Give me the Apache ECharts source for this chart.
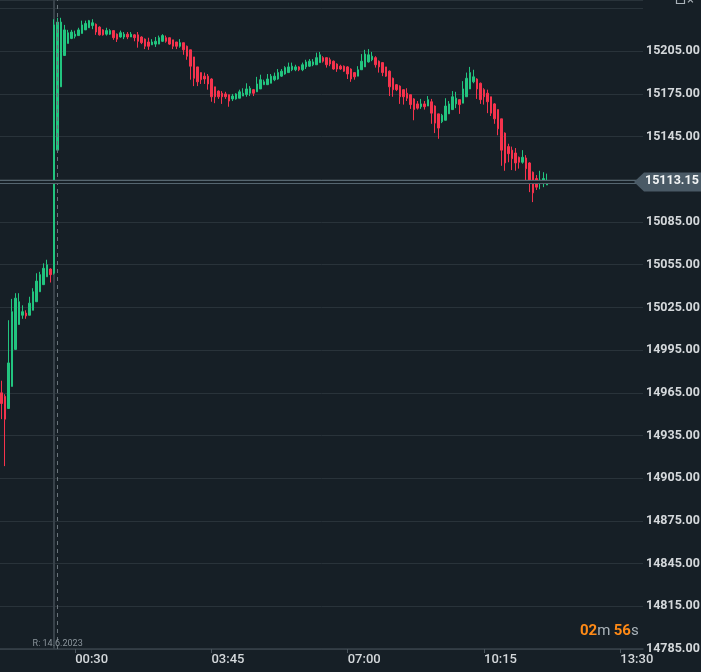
<!DOCTYPE html>
<html>
<head>
<meta charset="utf-8">
<script src="https://cdn.jsdelivr.net/npm/echarts@6/dist/echarts.min.js"></script>
<style>
html,body{margin:0;padding:0;background:#161f26;}
#chart{width:701px;height:672px;}
</style>
</head>
<body>
<div id="chart"></div>
<script>
// ---- data (5-minute candles, first candle at 22:45) ----
const firstSlot = '22:45';
const slotCount = 184;
const tickLabels = ['00:30', '03:45', '07:00', '10:15', '13:30'];
const sessionStart = '00:00';
const releaseSlot = '00:05';
const releaseText = 'R: 14.6.2023';
const countdownMin = '02';
const countdownSec = '56';

const opens = [
14965,14962.5,14954,14969.5,14995.5,15013,15019.5,15021,15019.5,15023,15029,15036,15041,15046.5,15052,
15049,15135.5,15180,15202,15210.5,15214,15215.5,15216,15217.5,15220,15221.5,15223,15224,15222,15220,
15217,15217,15219.5,15217,15215,15215,15217,15215,15216.5,15216.5,15215,15213.5,15211.5,15209.5,15210,
15210,15212,15214.5,15214.5,15213,15211.5,15208.5,15211,15208.5,15206,15201,15194,15190,15187.5,15187.5,
15185.5,15180,15177,15175.5,15175,15174.5,15171.5,15171.5,15172,15173.5,15174.5,15175.5,15178,15176.5,15178.5,
15181.5,15181.5,15182.5,15185,15185.5,15187.5,15189,15190,15192,15192,15194,15192,15194,15194.5,15195.5,
15195.5,15197,15200.5,15200.5,15199,15198,15196,15194.5,15194.5,15194,15192.5,15190,15187.5,15192,15194,
15197.5,15199,15200.5,15198,15197,15194,15191,15186,15181.5,15180.5,15178,15175.5,15174.5,15171.5,15168,
15166,15168,15166.5,15169.5,15166.5,15161,15155.5,15156.5,15161,15164,15168,15171,15168.5,15173,15178.5,
15183.5,15185.5,15182.5,15178,15175.5,15173,15168,15164,15157.5,15147.5,15138,15135.5,15133.5,15130.5,15127,
15130,15126.5,15120,15115.5,15112,15112,15111
];
const closes = [
14957.5,14946.5,14986,15022,15031.5,15029,15022,15019,15028,15036,15043.5,15048,15052.5,15055,15048,
15223.5,15225.5,15225.5,15220,15218,15218.5,15217,15220,15223.5,15224.5,15226.5,15225,15218.5,15216.5,15216.5,
15219.5,15219.5,15214.5,15213.5,15218,15217,15215,15217,15214.5,15212,15211,15208.5,15208.5,15211.5,15212,
15214.5,15216,15212,15210,15208.5,15208.5,15211,15206,15201.5,15194.5,15186,15183.5,15185,15185.5,15182,
15173,15173,15173,15173,15173,15170,15173.5,15175,15176.5,15175.5,15178.5,15179,15175.5,15182,15185,
15183.5,15185.5,15187.5,15187.5,15190,15191,15193.5,15194,15194.5,15194,15192,15195.5,15197.5,15198,15197.5,
15200.5,15202.5,15198,15195.5,15196,15192.5,15192.5,15192.5,15191,15189,15185.5,15187,15192,15198,15203,
15202.5,15201.5,15195.5,15194,15190,15187.5,15180,15178,15178,15173,15173,15172,15167.5,15164,15165,
15168,15166,15171,15161.5,15154.5,15151,15160,15166.5,15168,15173,15172,15167.5,15178.5,15186,15190,
15187,15178.5,15171,15173,15169.5,15161.5,15157.5,15150.5,15135.5,15126.5,15133,15129.5,15126.5,15127,15130.5,
15122.5,15114.5,15105.5,15109.5,15114.5,15115.5,15113.15
];
const lows = [
14946.5,14913.5,14954,14969.5,14995.5,15013,15017,15017,15019.5,15023,15029,15036,15041,15046.5,15042.5,
15048,15134,15180,15202,15210.5,15213.5,15214,15216,15217.5,15220,15221.5,15220.5,15216.5,15216,15216,
15216,15216.5,15213,15211.5,15214.5,15213.5,15213.5,15215,15212,15207.5,15210,15206.5,15206,15209.5,15208,
15210,15211.5,15211,15209.5,15206.5,15206.5,15207.5,15202.5,15199,15185,15180.5,15180.5,15182,15182,15178,
15169.5,15168.5,15171.5,15168,15171.5,15166,15170,15171,15172,15173.5,15173,15173.5,15173.5,15176.5,15178.5,
15181.5,15181.5,15182.5,15184,15185,15187,15188.5,15190,15191,15191,15191,15191,15192.5,15194,15194.5,
15195.5,15197,15197,15193.5,15194.5,15192,15190.5,15192,15190.5,15185.5,15183.5,15185,15187.5,15192,15194,
15197,15198,15193.5,15190,15187.5,15187,15173.5,15173,15177,15168,15167.5,15170,15164.5,15156.5,15164,
15164.5,15164,15166.5,15154,15147.5,15143.5,15154.5,15156.5,15161,15164,15165,15161,15168.5,15173,15178.5,
15182.5,15171.5,15168,15167.5,15161.5,15159.5,15154,15146,15124.5,15121,15127,15121.5,15121,15122.5,15126,
15114.5,15106,15099,15107.5,15108,15109.5,15111
];
const highs = [
14973.5,14964,15016,15031,15035,15035,15026.5,15023,15032.5,15038.5,15049,15050,15056,15058.5,15052.5,
15227.5,15228.5,15228.5,15223.5,15220,15220,15219.5,15221.5,15226.5,15226.5,15227,15227.5,15224.5,15222.5,15220.5,
15221.5,15220.5,15219.5,15217.5,15219.5,15218.5,15218.5,15218.5,15217,15218.5,15215.5,15214,15214.5,15213.5,15215,
15216,15217,15216,15214.5,15213,15211.5,15213.5,15211,15209,15206,15201,15194,15190,15190,15189,
15186,15180,15177.5,15177,15176.5,15174.5,15175,15175.5,15178,15179,15182.5,15180.5,15178.5,15187,15188.5,
15185,15189,15189,15190,15192.5,15192.5,15194.5,15197,15197,15195.5,15194.5,15197,15199,15199.5,15199.5,
15204,15204.5,15201.5,15200.5,15200.5,15198.5,15196.5,15195.5,15195,15194.5,15193,15190,15194.5,15203,15206,
15206.5,15204.5,15201.5,15198.5,15197,15194,15191.5,15186.5,15182,15181,15178,15179,15174.5,15172,15170,
15171.5,15170,15173.5,15171.5,15167,15161,15161,15172,15170,15177,15176.5,15171,15184,15190,15194,
15192,15186,15183,15179,15178,15173,15168.5,15164,15157.5,15148,15140,15138,15137,15131,15135.5,
15132,15127,15120.5,15118,15121,15120,15119
];

// ---- styles ----
const BG = '#161f26';
const UP = '#22c47f';
const DOWN = '#f5334d';
const GRID = '#29333a';
const TEXT = '#d4d8db';

function buildCategories(start, count) {
  const [h, m] = start.split(':').map(Number);
  const base = h * 60 + m;
  const out = [];
  for (let i = 0; i < count; i++) {
    const t = (base + i * 5) % 1440;
    out.push(String(Math.floor(t / 60)).padStart(2, '0') + ':' + String(t % 60).padStart(2, '0'));
  }
  return out;
}
const categories = buildCategories(firstSlot, slotCount);
const candleData = categories.map((c, i) =>
  i < opens.length ? [opens[i], closes[i], lows[i], highs[i]] : '-'
);
const lastPrice = closes[closes.length - 1];

const chart = echarts.init(document.getElementById('chart'), null, {renderer: 'canvas'});
const showTick = (idx, val) => tickLabels.indexOf(val) >= 0;

chart.setOption({
  animation: false,
  backgroundColor: BG,
  grid: {left: 0, right: 58, top: 0, bottom: 23, containLabel: false, outerBoundsMode: 'none'},
  xAxis: {
    type: 'category',
    data: categories,
    boundaryGap: true,
    axisLine: {show: true, lineStyle: {color: '#38434b', width: 1.5}},
    axisTick: {show: true, alignWithLabel: true, interval: showTick, length: 4, lineStyle: {color: '#4a555d'}},
    axisLabel: {
      interval: showTick, align: 'left', margin: 4,
      color: TEXT, fontSize: 13, fontFamily: 'Roboto', fontWeight: 500
    },
    splitLine: {show: false}
  },
  yAxis: {
    type: 'value',
    position: 'right',
    min: 14785, max: 15241, interval: 30,
    axisLine: {show: false},
    axisTick: {show: false},
    splitLine: {show: true, lineStyle: {color: GRID, width: 1}},
    axisLabel: {
      margin: 3, color: TEXT, fontSize: 12.5, fontFamily: 'Roboto', fontWeight: 'bold',
      formatter: v => (v > 15230 ? '' : v.toFixed(2))
    }
  },
  series: [
    {
      type: 'line', data: [], silent: true,
      markLine: {
        z: 1, silent: true, symbol: 'none', animation: false,
        label: {show: false},
        lineStyle: {color: '#38424a', width: 2, type: 'solid'},
        data: [{xAxis: sessionStart}]
      }
    },
    {
      type: 'candlestick',
      data: candleData,
      barWidth: 2,
      z: 2,
      itemStyle: {color: UP, color0: DOWN, borderColor: UP, borderColor0: DOWN, borderWidth: 1},
      markLine: {
        z: 5, silent: true, symbol: 'none', animation: false,
        label: {show: false},
        data: [
          {xAxis: releaseSlot, lineStyle: {color: '#6a747b', width: 1, type: [4, 4]}},
          {yAxis: lastPrice, lineStyle: {color: '#55656f', width: 4, type: 'solid'}},
          {yAxis: lastPrice, lineStyle: {color: BG, width: 2, type: 'solid'}}
        ]
      }
    }
  ]
});

// overlays positioned from the chart's own scales
const py = chart.convertToPixel({yAxisIndex: 0}, lastPrice);
const rx = chart.convertToPixel({xAxisIndex: 0}, releaseSlot);
const gridRight = 701 - 58;
chart.setOption({
  graphic: [
    {
      type: 'polygon', z: 20,
      shape: {points: [[gridRight - 9, py], [gridRight + 1, py - 9.5], [701, py - 9.5], [701, py + 9.5], [gridRight + 1, py + 9.5]]},
      style: {fill: '#4a5a66'}
    },
    {
      type: 'text', z: 21, left: gridRight + 2, top: py - 8,
      style: {text: lastPrice.toFixed(2), fill: '#f2f4f5', font: 'bold 12.5px Roboto'}
    },
    {
      type: 'text', z: 21, left: 580, top: 624,
      style: {
        text: '{o|' + countdownMin + '}{g|m} {o|' + countdownSec + '}{g|s}',
        rich: {
          o: {fill: '#ff8a16', font: 'bold 15px Roboto'},
          g: {fill: '#aab3b9', font: '15px Roboto'}
        }
      }
    },
    {
      type: 'text', z: 21, x: rx, y: 644,
      style: {text: releaseText, fill: '#8a949b', font: '9px Roboto', align: 'center', verticalAlign: 'middle'}
    },
    {
      type: 'rect', z: 21, shape: {x: 676.5, y: -3.5, width: 8, height: 7},
      style: {fill: 'none', stroke: '#aab2b8', lineWidth: 1.2}
    },
    {
      type: 'text', z: 21, left: 687, top: -6,
      style: {text: '×', fill: '#aab2b8', font: '13px Roboto'}
    }
  ]
});
</script>
</body>
</html>
